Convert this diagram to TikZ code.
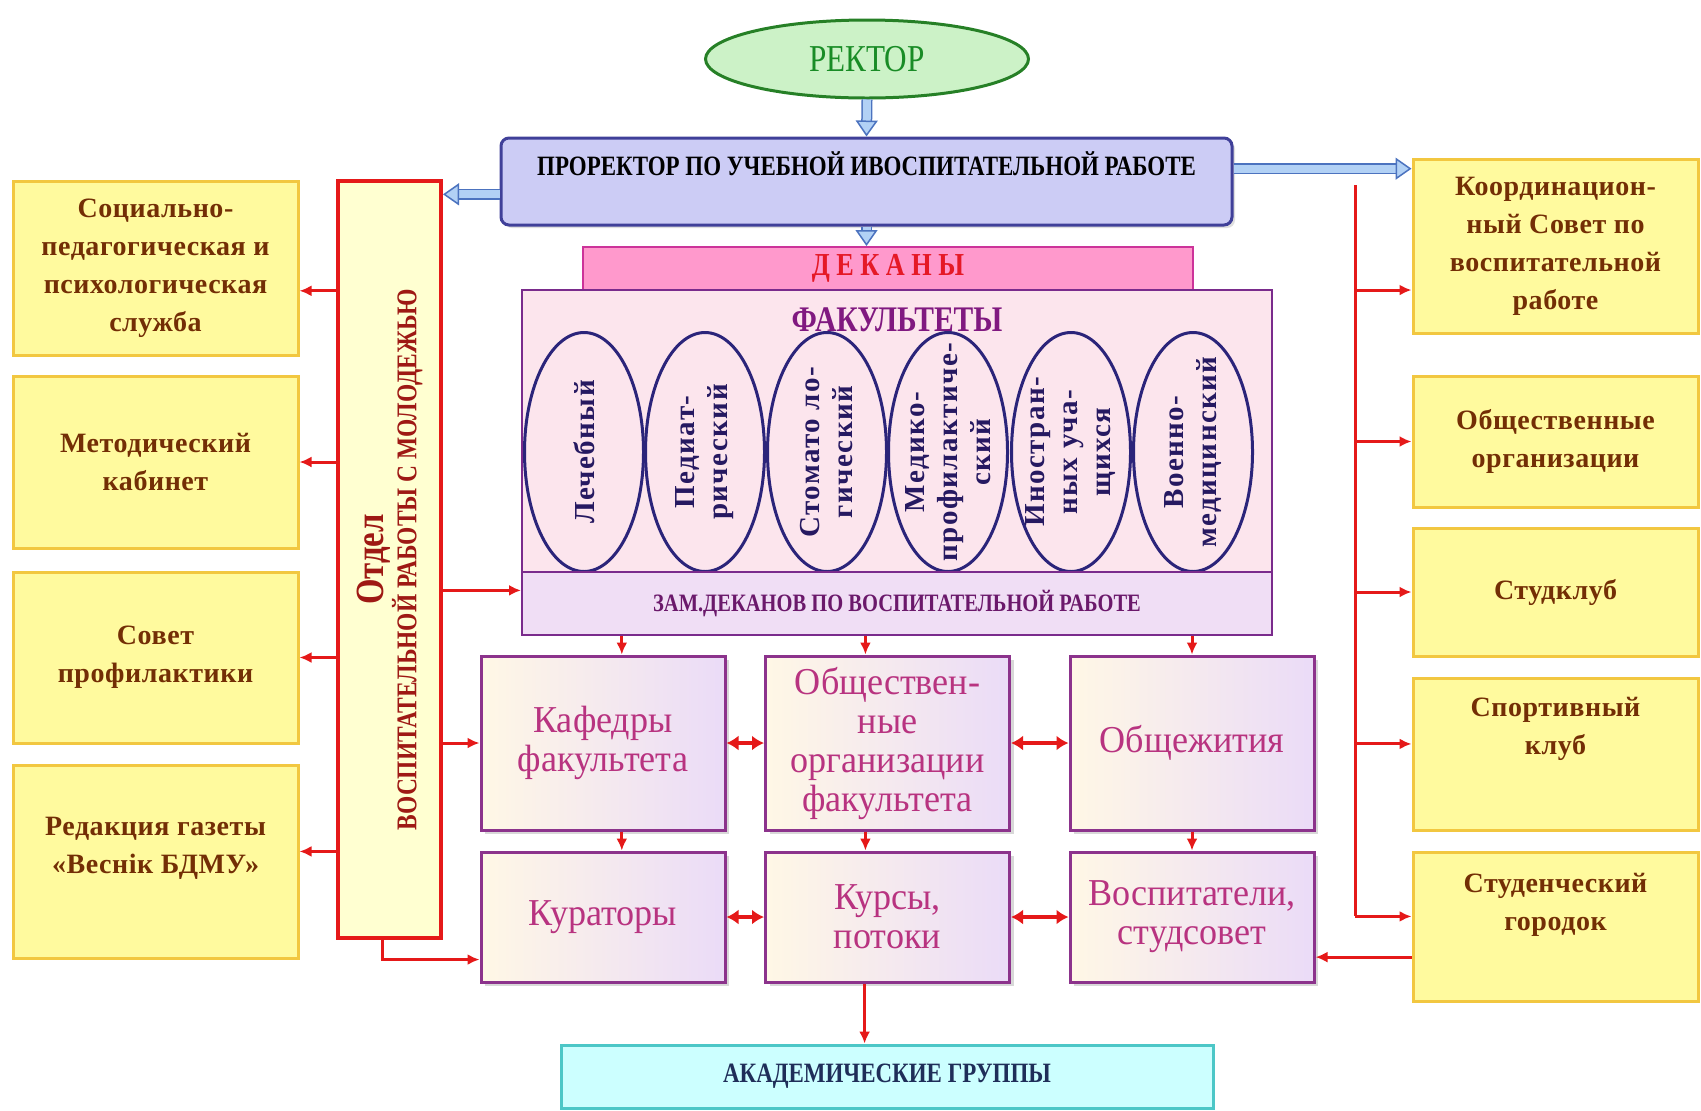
\documentclass[tikz,border=0pt]{standalone}
\usepackage{fontspec}
\setmainfont{Liberation Serif}
\newfontfamily\narrowfont{Liberation Serif}[FakeStretch=0.82]
\newfontfamily\gridfont{Liberation Serif}[FakeStretch=0.95]
\newfontfamily\boxfont{Liberation Serif}[LetterSpace=2]
\newfontfamily\ovalfont{Liberation Serif}[LetterSpace=5]
\usetikzlibrary{shapes.geometric,arrows.meta,shadows}

\newlength{\du}
\setlength{\du}{0.5pt}

\definecolor{yellowfill}{rgb}{1.0,0.98,0.62}
\definecolor{yellowedge}{rgb}{0.95,0.78,0.25}
\definecolor{browntext}{rgb}{0.45,0.18,0.02}
\definecolor{otdelfill}{rgb}{1.0,1.0,0.82}
\definecolor{otdeledge}{rgb}{0.9,0.1,0.1}
\definecolor{otdeltext}{rgb}{0.62,0.1,0.08}
\definecolor{rectorfill}{rgb}{0.8,0.95,0.78}
\definecolor{rectoredge}{rgb}{0.15,0.5,0.15}
\definecolor{rectortext}{rgb}{0.1,0.55,0.15}
\definecolor{profill}{rgb}{0.8,0.8,0.96}
\definecolor{proedge}{rgb}{0.25,0.25,0.6}
\definecolor{deanfill}{rgb}{1.0,0.6,0.8}
\definecolor{deanedge}{rgb}{0.8,0.2,0.6}
\definecolor{deantext}{rgb}{0.9,0.1,0.15}
\definecolor{facfill}{rgb}{0.99,0.9,0.93}
\definecolor{facedge}{rgb}{0.48,0.17,0.55}
\definecolor{factext}{rgb}{0.5,0.1,0.5}
\definecolor{ovaledge}{rgb}{0.17,0.14,0.48}
\definecolor{ovaltext}{rgb}{0.15,0.1,0.38}
\definecolor{zamfill}{rgb}{0.94,0.87,0.96}
\definecolor{zamtext}{rgb}{0.42,0.1,0.42}
\definecolor{gridedge}{rgb}{0.55,0.2,0.55}
\definecolor{gridtext}{rgb}{0.72,0.2,0.5}
\definecolor{gridcream}{rgb}{1.0,0.97,0.9}
\definecolor{gridlav}{rgb}{0.92,0.86,0.97}
\definecolor{acadfill}{rgb}{0.8,1.0,1.0}
\definecolor{acadedge}{rgb}{0.3,0.78,0.78}
\definecolor{acadtext}{rgb}{0.12,0.18,0.35}
\definecolor{arrowred}{rgb}{0.9,0.1,0.1}
\definecolor{blueedge}{rgb}{0.3,0.45,0.75}
\definecolor{bluefill}{rgb}{0.7,0.82,0.96}

\tikzset{
  yellowbox/.style={draw=yellowedge, line width=3\du, fill=yellowfill, minimum width=285\du,
    align=center, text=browntext, font={\boxfont\bfseries\fontsize{14}{19}\selectfont}},
  gridbox/.style={draw=gridedge, line width=3\du, left color=gridcream, right color=gridlav,
    drop shadow={shadow xshift=2pt, shadow yshift=-2pt, fill=black!30},
    minimum width=244\du, align=center, text=gridtext, font={\gridfont\fontsize{19}{19.5}\selectfont}},
  facoval/.style={ellipse, draw=ovaledge, line width=3\du, fill=facfill, minimum width=119\du,
    minimum height=239\du, inner sep=0pt},
  factext/.style={rotate=90, align=center, text=ovaltext, font={\ovalfont\bfseries\fontsize{14.5}{16.5}\selectfont}},
  redline/.style={draw=arrowred, line width=3\du},
  redarrow/.style={redline, -{Latex[length=6pt,width=5.5pt]}},
  twoway/.style={redline, line width=4\du, {Latex[length=6pt,width=7.5pt]}-{Latex[length=6pt,width=7.5pt]}},
  bluearrow/.style={draw=blueedge, line width=1.5\du, double=bluefill, double distance=8\du,
    -{Triangle[length=8pt,width=11pt,fill=bluefill]}}
}

\begin{document}
\begin{tikzpicture}
\pgftransformyscale{-1.000000}
\useasboundingbox (0\du,0\du) rectangle (1701\du,1110\du);
% top
\node[ellipse, draw=rectoredge, line width=3\du, fill=rectorfill, minimum width=323\du, minimum height=78\du,
  text=rectortext, font={\narrowfont\fontsize{19}{19}\selectfont}] (rector) at (867\du,59\du) {РЕКТОР};
\node[draw=proedge, line width=3\du, fill=profill, rounded corners=8\du, minimum width=731\du, minimum height=87\du,
  text depth=18pt, drop shadow={shadow xshift=1.5pt, shadow yshift=-1.5pt, fill=black!25},
  font={\narrowfont\bfseries\fontsize{14}{14}\selectfont}] (prorector) at (866.5\du,181.5\du)
  {ПРОРЕКТОР ПО УЧЕБНОЙ ИВОСПИТАТЕЛЬНОЙ РАБОТЕ};
\node[draw=deanedge, line width=2\du, fill=deanfill, minimum width=610\du, minimum height=43\du,
  text=deantext, font={\narrowfont\bfseries\fontsize{16}{16}\selectfont}] (deans) at (888\du,268.5\du) {Д Е К А Н Ы};
% faculties
\node[draw=facedge, line width=2\du, fill=facfill, minimum width=750\du, minimum height=282\du] (fac) at (897\du,431\du) {};
\node[text=factext, font={\narrowfont\bfseries\fontsize{18}{18}\selectfont}] (factitle) at (897\du,320\du) {ФАКУЛЬТЕТЫ};
\node[facoval] (f1) at (584\du,452\du) {};
\node[facoval] (f2) at (705\du,452\du) {};
\node[facoval] (f3) at (827\du,452\du) {};
\node[facoval] (f4) at (948\du,452\du) {};
\node[facoval] (f5) at (1071\du,452\du) {};
\node[facoval] (f6) at (1193\du,452\du) {};
\node[factext] at (f1) {Лечебный};
\node[factext] at (f2) {Педиат-\\рический};
\node[factext] at (f3) {Стомато ло-\\гический};
\node[factext] at (f4) {Медико-\\профилактиче-\\ский};
\node[factext] at (f5) {Иностран-\\ных уча-\\щихся};
\node[factext] at (f6) {Военно-\\медицинский};
\node[draw=facedge, line width=2\du, fill=zamfill, minimum width=750\du, minimum height=63\du,
  text=zamtext, font={\narrowfont\bfseries\fontsize{12.5}{12.5}\selectfont}] (zam) at (897\du,603.5\du)
  {ЗАМ.ДЕКАНОВ ПО ВОСПИТАТЕЛЬНОЙ РАБОТЕ};
% left column
\node[draw=otdeledge, line width=4\du, fill=otdelfill, minimum width=103\du, minimum height=757\du] (otdel) at (389.5\du,559.5\du) {};
\node[rotate=90, align=center, text=otdeltext, font={\narrowfont\bfseries\fontsize{14.3}{15}\selectfont}] at (otdel)
  {{\fontsize{20}{20}\selectfont Отдел}\\ВОСПИТАТЕЛЬНОЙ РАБОТЫ С МОЛОДЕЖЬЮ};
\node[yellowbox, minimum height=174\du] (soc) at (155.5\du,268\du) {Социально-\\педагогическая и\\психологическая\\служба};
\node[yellowbox, minimum height=172\du] (met) at (155.5\du,462\du) {Методический\\кабинет};
\node[yellowbox, minimum height=171\du] (sov) at (155.5\du,657.5\du) {Совет\\профилактики};
\node[yellowbox, minimum height=193\du, text depth=16pt] (red) at (155.5\du,861.5\du) {Редакция газеты\\«Веснік БДМУ»};
% right column
\node[yellowbox, minimum height=174\du] (kc) at (1555.5\du,246\du) {Координацион-\\ный Совет по\\воспитательной\\работе};
\node[yellowbox, minimum height=131\du] (obo) at (1555.5\du,441.5\du) {Общественные\\организации};
\node[yellowbox, minimum height=128\du] (stud) at (1555.5\du,592\du) {Студклуб};
\node[yellowbox, minimum height=152\du, text depth=28pt] (sport) at (1555.5\du,754\du) {Спортивный\\клуб};
\node[yellowbox, minimum height=149\du, text depth=25pt] (gorod) at (1555.5\du,926.5\du) {Студенческий\\городок};
% middle grid
\node[gridbox, minimum height=174\du] (kaf) at (603\du,743\du) {Кафедры\\факультета};
\node[gridbox, minimum height=174\du] (obs) at (887.5\du,743\du) {Обществен-\\ные\\организации\\факультета};
\node[gridbox, minimum height=174\du] (dorm) at (1192\du,743\du) {Общежития};
\node[gridbox, minimum height=130\du] (kur) at (603\du,917\du) {Кураторы};
\node[gridbox, minimum height=130\du] (kurs) at (887.5\du,917\du) {Курсы,\\потоки};
\node[gridbox, minimum height=130\du] (vosp) at (1192\du,917\du) {Воспитатели,\\студсовет};
\node[draw=acadedge, line width=3\du, fill=acadfill, minimum width=652\du, minimum height=63\du,
  text=acadtext, font={\narrowfont\bfseries\fontsize{14}{14}\selectfont}] (acad) at (887\du,1076.5\du) {АКАДЕМИЧЕСКИЕ ГРУППЫ};
\coordinate (rbus) at (1355\du,185\du);

% connectors
\draw[bluearrow] (rector.south) -- (prorector.north);
\draw[bluearrow] (prorector.south) -- (prorector.south |- deans.north);
\draw[bluearrow] (prorector.182) -- (prorector.182 -| otdel.east);
\draw[bluearrow] (prorector.2) -- (prorector.2 -| kc.west);
\foreach \t in {soc.-9, met.east, sov.east, red.4}
  \draw[redarrow] (otdel.west |- \t) -- (\t);
\draw[redarrow] (otdel.east |- zam.178) -- (zam.178);
\draw[redarrow] (otdel.east |- kaf.west) -- (kaf.west);
\draw[redarrow] (otdel.-91.5) |- (kur.199);
\foreach \b/\a in {kaf/78, obs/104, dorm/90}
  \draw[redarrow] (zam.south -| \b.\a) -- (\b.\a);
\draw[redarrow] (kaf.-78) -- (kaf.-78 |- kur.north);
\draw[redarrow] (obs.-104) -- (obs.-104 |- kurs.north);
\draw[redarrow] (dorm.south) -- (vosp.north);
\draw[twoway] (kaf.east) -- (obs.west);
\draw[twoway] (obs.east) -- (dorm.west);
\draw[twoway] (kur.east) -- (kurs.west);
\draw[twoway] (kurs.east) -- (vosp.west);
\draw[redline] (rbus) -- (rbus |- gorod.176);
\foreach \t in {kc.197, obo.west, stud.west, sport.176, gorod.176}
  \draw[redarrow] (rbus |- \t) -- (\t);
\draw[redarrow] (gorod.192) -- (gorod.192 -| vosp.east);
\draw[redarrow] (kurs.-109) -- (kurs.-109 |- acad.north);
\end{tikzpicture}
\end{document}
